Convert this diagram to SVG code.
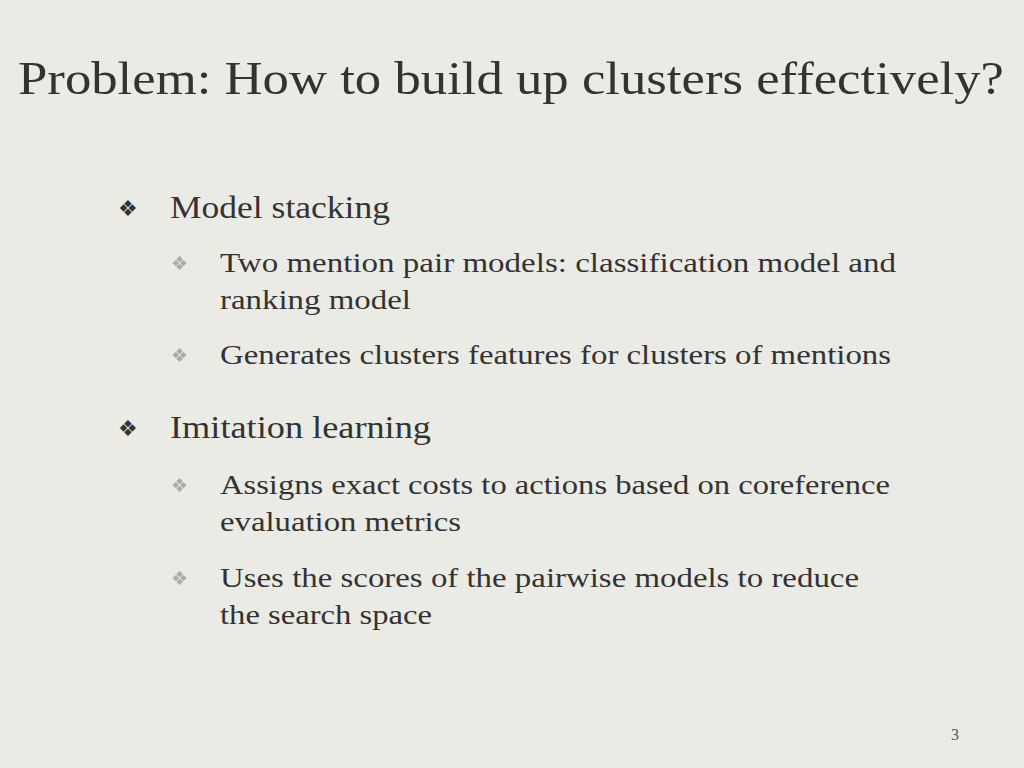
<svg xmlns="http://www.w3.org/2000/svg" width="1024" height="768" viewBox="0 0 1024 768">
<style>
text{font-family:"Liberation Serif","DejaVu Serif",serif;fill:#333}
.t{font-size:47px}
.l1{font-size:31px}
.l2{font-size:28px}
.b1{font-size:22px;fill:#333}
.b2{font-size:19px;fill:#aaa}
</style>
<rect width="1024" height="768" fill="#ebebe5"/>
<g id="title"><text class="t" x="18" y="94" textLength="986" lengthAdjust="spacingAndGlyphs">Problem: How to build up clusters effectively?</text></g>
<g id="item1">
<text class="b1" x="118" y="216">❖</text>
<text class="l1" x="170" y="218" textLength="220" lengthAdjust="spacingAndGlyphs">Model stacking</text>
<text class="b2" x="171" y="270">❖</text>
<text class="l2" x="220" y="272" textLength="676" lengthAdjust="spacingAndGlyphs">Two mention pair models: classification model and</text>
<text class="l2" x="220" y="309" textLength="191" lengthAdjust="spacingAndGlyphs">ranking model</text>
<text class="b2" x="171" y="362">❖</text>
<text class="l2" x="220" y="364" textLength="671" lengthAdjust="spacingAndGlyphs">Generates clusters features for clusters of mentions</text>
</g>
<g id="item2">
<text class="b1" x="118" y="436">❖</text>
<text class="l1" x="170" y="438" textLength="261" lengthAdjust="spacingAndGlyphs">Imitation learning</text>
<text class="b2" x="171" y="492">❖</text>
<text class="l2" x="220" y="494" textLength="670" lengthAdjust="spacingAndGlyphs">Assigns exact costs to actions based on coreference</text>
<text class="l2" x="220" y="531" textLength="241" lengthAdjust="spacingAndGlyphs">evaluation metrics</text>
<text class="b2" x="171" y="585">❖</text>
<text class="l2" x="220" y="587" textLength="639" lengthAdjust="spacingAndGlyphs">Uses the scores of the pairwise models to reduce</text>
<text class="l2" x="220" y="624" textLength="212" lengthAdjust="spacingAndGlyphs">the search space</text>
</g>
<g id="page"><text x="951" y="740" style="font-size:16px;fill:#555">3</text></g>
</svg>
